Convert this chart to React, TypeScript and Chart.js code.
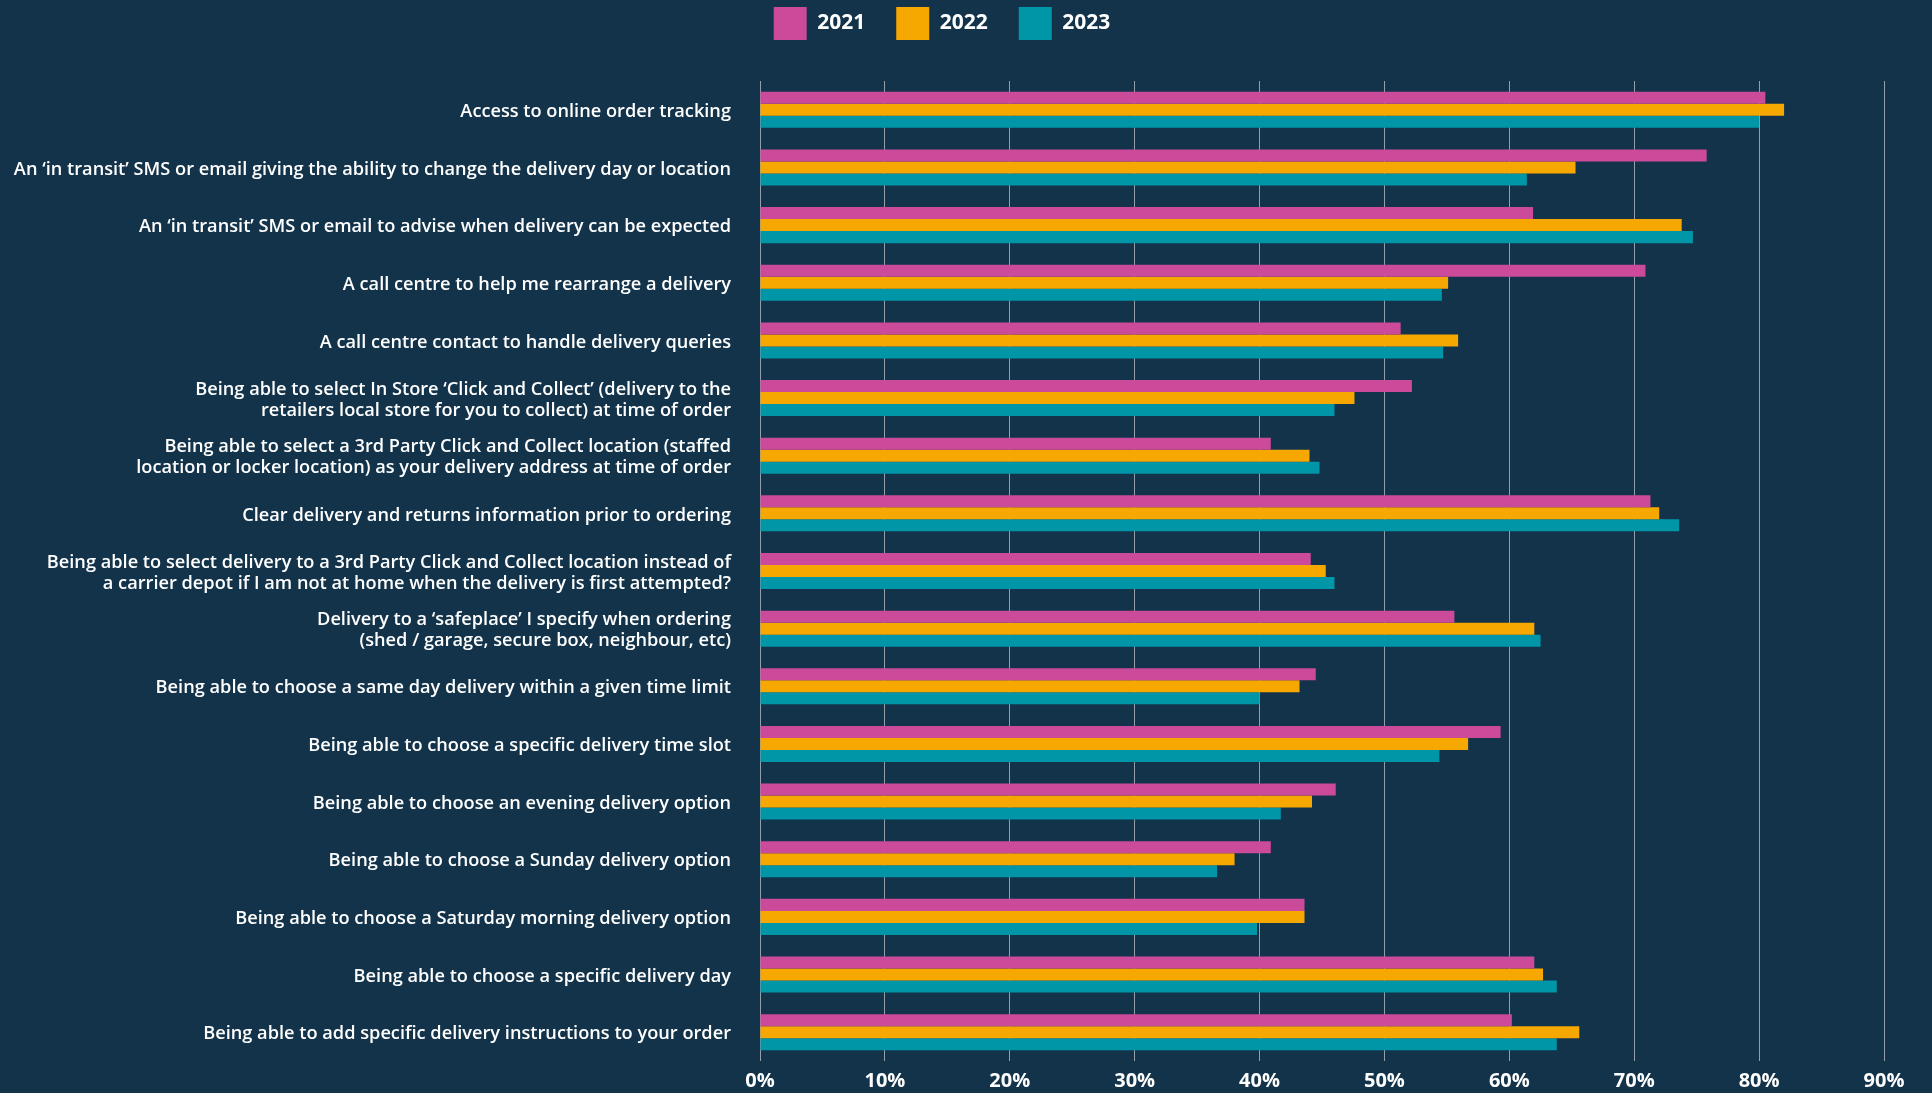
import React, { useEffect, useRef } from "react";
import { Chart, registerables } from "chart.js";

Chart.register(...registerables);

const categories: (string | string[])[] = [
  "Access to online order tracking",
  "An \u2018in transit\u2019 SMS or email giving the ability to change the delivery day or location",
  "An \u2018in transit\u2019 SMS or email to advise when delivery can be expected",
  "A call centre to help me rearrange a delivery",
  "A call centre contact to handle delivery queries",
  ["Being able to select In Store \u2018Click and Collect\u2019 (delivery to the", "retailers local store for you to collect) at time of order"],
  ["Being able to select a 3rd Party Click and Collect location (staffed", "location or locker location) as your delivery address at time of order"],
  "Clear delivery and returns information prior to ordering",
  ["Being able to select delivery to a 3rd Party Click and Collect location instead of", "a carrier depot if I am not at home when the delivery is first attempted?"],
  ["Delivery to a \u2018safeplace\u2019 I specify when ordering", "(shed / garage, secure box, neighbour, etc)"],
  "Being able to choose a same day delivery within a given time limit",
  "Being able to choose a specific delivery time slot",
  "Being able to choose an evening delivery option",
  "Being able to choose a Sunday delivery option",
  "Being able to choose a Saturday morning delivery option",
  "Being able to choose a specific delivery day",
  "Being able to add specific delivery instructions to your order",
];

const values2021 = [80.5, 75.8, 61.9, 70.9, 51.3, 52.2, 40.9, 71.3, 44.1, 55.6, 44.5, 59.3, 46.1, 40.9, 43.6, 62.0, 60.2];
const values2022 = [82.0, 65.3, 73.8, 55.1, 55.9, 47.6, 44.0, 72.0, 45.3, 62.0, 43.2, 56.7, 44.2, 38.0, 43.6, 62.7, 65.6];
const values2023 = [80.0, 61.4, 74.7, 54.6, 54.7, 46.0, 44.8, 73.6, 46.0, 62.5, 40.0, 54.4, 41.7, 36.6, 39.8, 63.8, 63.8];

const seriesNames = ["2021", "2022", "2023"];
const seriesColors = ["#CB4A9A", "#F7A800", "#0096A7"];

const xMin = 0;
const xMax = 90;
const xStep = 10;

const FONT = "'Open Sans', 'Noto Sans', sans-serif";

export default function App() {
  const ref = useRef<HTMLCanvasElement | null>(null);

  useEffect(() => {
    document.body.style.margin = "0";
    const canvas = ref.current;
    if (!canvas) return;

    const bgPlugin = {
      id: "bg",
      beforeDraw(chart: any) {
        const { ctx, width, height } = chart;
        ctx.save();
        ctx.fillStyle = "#12334A";
        ctx.fillRect(0, 0, width, height);
        ctx.restore();
      },
    };

    const legendMargin = {
      id: "legendMargin",
      beforeInit(chart: any) {
        const orig = chart.legend.fit;
        chart.legend.fit = function () {
          orig.call(this);
          this.height += 31;
        };
      },
    };

    const data = [values2021, values2022, values2023];

    const chart = new Chart(canvas, {
      type: "bar",
      data: {
        labels: categories as any,
        datasets: seriesNames.map((name, i) => ({
          label: name,
          data: data[i],
          backgroundColor: seriesColors[i],
          borderWidth: 0,
          categoryPercentage: 0.625,
          barPercentage: 1.0,
        })),
      },
      options: {
        indexAxis: "y",
        animation: false,
        responsive: false,
        maintainAspectRatio: false,
        layout: { padding: { top: -24, left: 0, right: 48, bottom: 0 } },
        plugins: {
          tooltip: { enabled: false },
          legend: {
            position: "top",
            align: "center",
            labels: {
              boxWidth: 33,
              boxHeight: 33,
              padding: 31,
              color: "#FFFFFF",
              font: { family: FONT, size: 21, weight: 700 },
            },
          },
        },
        scales: {
          x: {
            type: "linear",
            min: xMin,
            max: xMax,
            ticks: {
              stepSize: xStep,
              color: "#FFFFFF",
              padding: 8,
              font: { family: FONT, size: 20, weight: 700 },
              callback: (v: any) => `${v}%`,
            },
            grid: {
              color: "rgba(190,195,200,0.75)",
              lineWidth: 1,
              drawTicks: false,
            },
            border: { display: false },
            afterFit(scale: any) {
              scale.height = 32;
              scale.paddingLeft = 0;
              scale.paddingRight = 0;
            },
          },
          y: {
            type: "category",
            ticks: {
              color: "#FFFFFF",
              padding: 29,
              labelOffset: 2,
              font: { family: FONT, size: 18.2, weight: 600, lineHeight: 1.15 },
            },
            grid: { display: false, drawTicks: false },
            border: { display: false },
            afterFit(scale: any) {
              scale.width = 760;
              scale.paddingTop = 0;
              scale.paddingBottom = 0;
            },
          },
        },
      } as any,
      plugins: [bgPlugin, legendMargin],
    });

    return () => chart.destroy();
  }, []);

  return (
    <div style={{ position: "absolute", left: 0, top: 0, width: 1932, height: 1093, overflow: "hidden" }}>
      <canvas ref={ref} width={1932} height={1093} style={{ display: "block", width: 1932, height: 1093 }} />
    </div>
  );
}
